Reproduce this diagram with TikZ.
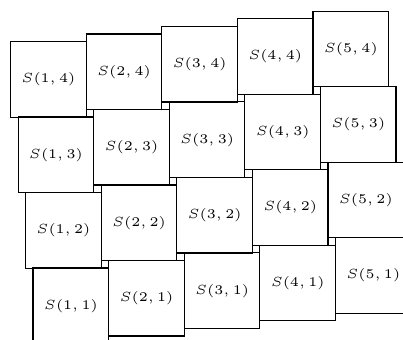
\documentclass[tikz,border=0pt]{standalone}
\begin{document}
\begin{tikzpicture}
\tikzset{sq/.style={draw=black, line width=0.45pt, minimum size=1cm, inner sep=0pt, anchor=north west, font=\tiny}}
\useasboundingbox (0,0) rectangle (5.331,-4.497);
\clip (0,0) rectangle (5.331,-4.497);
\foreach \j in {4,3,2,1}{
  \foreach \i in {1,...,5}{
    \pgfmathsetmacro{\xx}{0.1323 + (\i-1) + 0.0992*(4-\j)}
    \pgfmathsetmacro{\yy}{-(0.5423 - 0.1005*(\i-1) + 0.9987*(4-\j))}
    \node[sq] (s\i\j) at (\xx,\yy) {$S(\i,\j)$};
  }
}
\end{tikzpicture}
\end{document}
